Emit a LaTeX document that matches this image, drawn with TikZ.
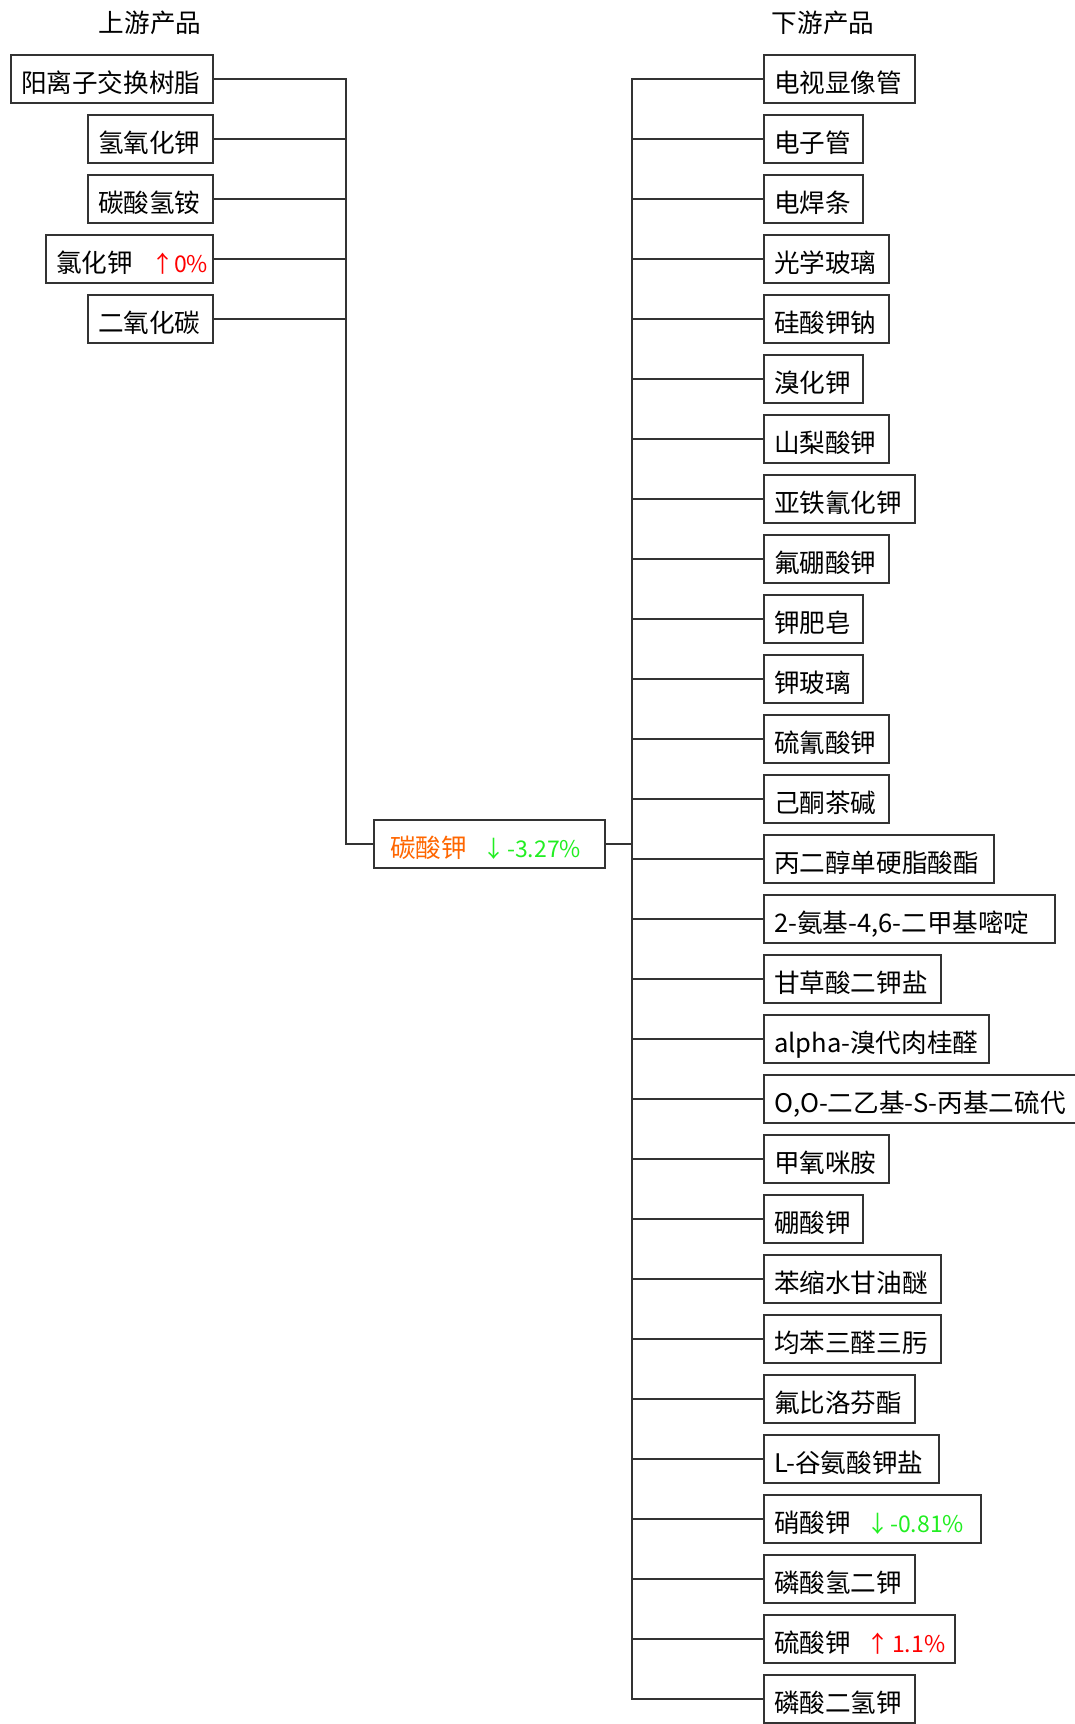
\documentclass[tikz,border=0pt]{standalone}
\usepackage{fontspec}
\setmainfont{Noto Sans CJK SC}
\definecolor{upred}{HTML}{FF0000}
\definecolor{downgreen}{HTML}{22EE22}
\definecolor{mainorange}{HTML}{FF6600}
\definecolor{lineclr}{HTML}{333333}
\begin{document}
\begin{tikzpicture}[x=1pt,y=-1pt,
  every node/.style={font=\fontsize{25.6}{25.6}\selectfont, text height=32pt, text depth=5pt, inner ysep=0pt},
  box/.style={draw=lineclr, line width=2pt, minimum height=48pt, inner xsep=10pt, align=left},
  dbox/.style={box, anchor=west},
  ubox/.style={box, anchor=east},
  sfx/.style={inner sep=0pt, font=\fontsize{23}{23}\selectfont},
  link/.style={draw=lineclr, line width=2pt, line cap=rect}]
\useasboundingbox (0,0) rectangle (1075,1724);
% titles
\node (tu) at (150,18.5) {上游产品};
\node (td) at (823,18.5) {下游产品};
% upstream
\node[ubox, text width=182pt] (u1) at (214,79) {阳离子交换树脂};
\node[ubox, text width=105pt] (u2) at (214,139) {氢氧化钾};
\node[ubox, text width=105pt] (u3) at (214,199) {碳酸氢铵};
\node[ubox, text width=147pt] (u4) at (214,259) {氯化钾};
\node[ubox, text width=105pt] (u5) at (214,319) {二氧化碳};
\node[sfx, text=upred] (u4a) at (162.5,259) {↑};
\node[sfx, text=upred, anchor=west] (u4p) at (174,259) {0\%};
% centre
\node[box, anchor=west, inner xsep=16pt, text width=199pt, text=mainorange] (c) at (373,843.5) {碳酸钾};
\node[sfx, text=downgreen] (ca) at (493.5,843.5) {↓};
\node[sfx, text=downgreen, anchor=west] (cp) at (507,843.5) {-3.27\%};
% downstream
\node[dbox, text width=131pt] (d1) at (763,79) {电视显像管};
\node[dbox, text width=79pt] (d2) at (763,139) {电子管};
\node[dbox, text width=79pt] (d3) at (763,199) {电焊条};
\node[dbox, text width=105pt] (d4) at (763,259) {光学玻璃};
\node[dbox, text width=105pt] (d5) at (763,319) {硅酸钾钠};
\node[dbox, text width=79pt] (d6) at (763,379) {溴化钾};
\node[dbox, text width=105pt] (d7) at (763,439) {山梨酸钾};
\node[dbox, text width=131pt] (d8) at (763,499) {亚铁氰化钾};
\node[dbox, text width=105pt] (d9) at (763,559) {氟硼酸钾};
\node[dbox, text width=79pt] (d10) at (763,619) {钾肥皂};
\node[dbox, text width=79pt] (d11) at (763,679) {钾玻璃};
\node[dbox, text width=105pt] (d12) at (763,739) {硫氰酸钾};
\node[dbox, text width=105pt] (d13) at (763,799) {己酮茶碱};
\node[dbox, text width=210pt] (d14) at (763,859) {丙二醇单硬脂酸酯};
\node[dbox, text width=271pt] (d15) at (763,919) {2-氨基-4,6-二甲基嘧啶};
\node[dbox, text width=157pt] (d16) at (763,979) {甘草酸二钾盐};
\node[dbox, text width=205pt] (d17) at (763,1039) {alpha-溴代肉桂醛};
\node[dbox, text width=380pt] (d18) at (763,1099) {O,O-二乙基-S-丙基二硫代};
\node[dbox, text width=105pt] (d19) at (763,1159) {甲氧咪胺};
\node[dbox, text width=79pt] (d20) at (763,1219) {硼酸钾};
\node[dbox, text width=157pt] (d21) at (763,1279) {苯缩水甘油醚};
\node[dbox, text width=157pt] (d22) at (763,1339) {均苯三醛三肟};
\node[dbox, text width=131pt] (d23) at (763,1399) {氟比洛芬酯};
\node[dbox, text width=155pt] (d24) at (763,1459) {L-谷氨酸钾盐};
\node[dbox, text width=197pt] (d25) at (763,1519) {硝酸钾};
\node[dbox, text width=131pt] (d26) at (763,1579) {磷酸氢二钾};
\node[dbox, text width=171pt] (d27) at (763,1639) {硫酸钾};
\node[dbox, text width=131pt] (d28) at (763,1699) {磷酸二氢钾};
\node[sfx, text=downgreen] (d25a) at (877.5,1519) {↓};
\node[sfx, text=downgreen, anchor=west] (d25p) at (890,1519) {-0.81\%};
\node[sfx, text=upred] (d27a) at (878,1639) {↑};
\node[sfx, text=upred, anchor=west] (d27p) at (892,1639) {1.1\%};
% connectors
\coordinate (L) at (346,0);
\coordinate (R) at (632,0);
\foreach \n in {u1,u2,u3,u4,u5} \draw[link] (\n.east) -- (\n.east -| L);
\draw[link] (u1.east -| L) -- (c.west -| L) -- (c.west);
\draw[link] (c.east) -- (c.east -| R);
\draw[link] (d1.west -| R) -- (d28.west -| R);
\foreach \i in {1,...,28} \draw[link] (d\i.west -| R) -- (d\i.west);
\end{tikzpicture}
\end{document}
